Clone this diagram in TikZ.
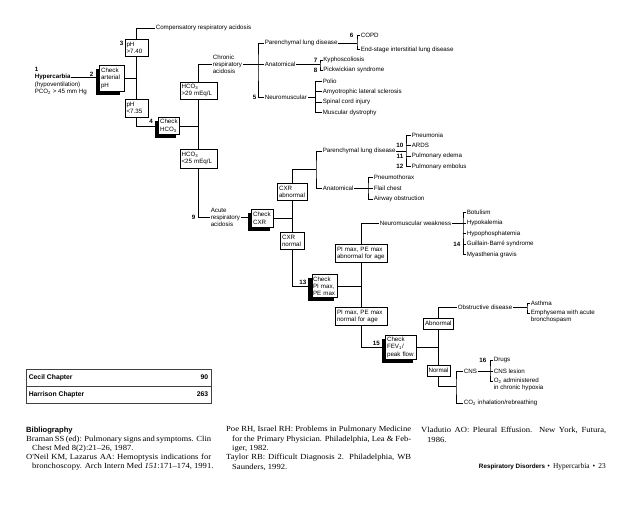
\documentclass[tikz,border=0pt]{standalone}
\usepackage{fontspec}
\setmainfont{Liberation Serif}
\setsansfont{Liberation Sans}
\newfontfamily\bibfont[FakeStretch=1.1]{Liberation Serif}
\usetikzlibrary{shadows}

\newcommand{\dgfont}{\fontsize{6.2}{7.2}\selectfont\sffamily}
\newcommand{\bibline}[2]{\makebox[#1pt][s]{#2}}

\begin{document}
\begin{tikzpicture}[x=1pt,y=-1pt,
  every node/.style={inner sep=0.6pt, font=\dgfont},
  lbl/.style={anchor=west, align=left},
  nr/.style={anchor=east, font=\dgfont\bfseries},
  box/.style={draw, line width=0.5pt, fill=white, anchor=north west, align=left,
    inner xsep=1.8pt, inner ysep=1pt},
  chkbox/.style={box, general shadow={fill=black, shadow xshift=-3.5pt, shadow yshift=-3.5pt}},
  lk/.style={line width=0.45pt},
  bib/.style={anchor=west, inner sep=0pt, font=\fontsize{7.8}{9}\selectfont\bibfont}]

\useasboundingbox (0,0) rectangle (638,510);

% start: hypercarbia and arterial pH
\node[nr, anchor=west] (n1) at (34,69) {1};
\node[lbl, font=\dgfont\bfseries] (hyper) at (34,77) {Hypercarbia};
\node[lbl] (hypo) at (34,84.5) {(hypoventilation)};
\node[lbl] (pco) at (34,92) {PCO\textsubscript{2} > 45 mm Hg};

\node[chkbox, text width=21pt, minimum height=26pt] (chkph) at (99,65) {Check\\arterial\\pH};
\node[box, text width=19.4pt, minimum height=17pt] (ph1) at (124.5,39) {pH\\>7.40};
\node[box, text width=19.4pt, minimum height=18pt] (ph2) at (124.5,99) {pH\\<7.35};
\node[chkbox, text width=17.4pt, minimum height=17pt] (chkhco) at (158,117) {Check\\HCO\textsubscript{3}};
\node[box, text width=33.4pt, minimum height=17pt] (hcohi) at (179.5,82) {HCO\textsubscript{3}\\>29 mEq/L};
\node[box, text width=33.4pt, minimum height=19pt] (hcolo) at (179.5,149) {HCO\textsubscript{3}\\<25 mEq/L};

\node[nr] (n2) at (94,74.5) {2};
\node[nr] (n3) at (124,43) {3};
\node[nr] (n4) at (153.5,121.5) {4};
\node[nr] (n9) at (196,217.5) {9};

\node[lbl] (comp) at (155,28) {Compensatory respiratory acidosis};
\node[lbl] (chron) at (212,64.5) {Chronic\\respiratory\\acidosis};
\node[lbl] (acute) at (210,217.5) {Acute\\respiratory\\acidosis};

\draw[lk] (hyper.east) -- (hyper.east -| chkph.west);
\draw[lk] (chkph.east) -- (chkph.east -| ph1.south);
\draw[lk] (ph1.south) -- (ph2.north);
\draw[lk] (ph1.north) |- (comp.west);
\draw[lk] (ph2.south) |- (chkhco.west);
\draw[lk] (chkhco.east) -- (chkhco.east -| hcohi.south);
\draw[lk] (hcohi.south) -- (hcolo.north);
\draw[lk] (hcohi.north) |- (chron.west);
\draw[lk] (hcolo.south) |- (acute.west);

% chronic respiratory acidosis
\node[lbl] (par1) at (264,43) {Parenchymal lung disease};
\node[lbl] (anat1) at (264,64.5) {Anatomical};
\node[lbl] (neu1) at (264,97) {Neuromuscular};
\node[nr] (n5) at (257,97) {5};
\coordinate (j5) at (258,64.5);
\draw[lk] (chron.east) -- (anat1.west);
\draw[lk] (par1.west) -| (j5) |- (neu1.west);

\node[lbl] (copd) at (360,35) {COPD};
\node[lbl] (endst) at (360,49.5) {End-stage interstitial lung disease};
\node[nr] (n6) at (354,35) {6};
\coordinate (j6) at (357,43);
\draw[lk] (par1.east) -- (j6);
\draw[lk] (copd.west) -| (j6) |- (endst.west);

\node[lbl] (kypho) at (322.5,60) {Kyphoscoliosis};
\node[lbl] (pickw) at (322.5,70) {Pickwickian syndrome};
\node[nr] (n7) at (318,60) {7};
\node[nr] (n8) at (318,70) {8};
\coordinate (j78) at (320,64.5);
\draw[lk] (anat1.east) -- (j78);
\draw[lk] (kypho.west) -| (j78) |- (pickw.west);

\foreach \nm/\yy/\tx in {polio/81/Polio, als/91.5/Amyotrophic lateral sclerosis,
    sci/102/Spinal cord injury, mdys/112.5/Muscular dystrophy}
  \node[lbl] (\nm) at (322,\yy) {\tx};
\coordinate (jn1) at (315.5,97);
\draw[lk] (neu1.east) -- (jn1);
\draw[lk] (polio.west) -| (jn1) |- (mdys.west);
\foreach \nm in {als,sci}
  \draw[lk] (\nm.west) -- (\nm.west -| jn1);

% acute respiratory acidosis
\node[chkbox, text width=18.4pt, minimum height=18pt] (chkcxr) at (251,209) {Check\\CXR};
\node[box, text width=26.4pt, minimum height=17pt] (cxrab) at (277,183) {CXR\\abnormal};
\node[box, text width=20.4pt, minimum height=17pt] (cxrno) at (280,232) {CXR\\normal};
\draw[lk] (acute.east) -- (acute.east -| chkcxr.west);
\draw[lk] (chkcxr.east) -- (chkcxr.east -| cxrab.south);
\draw[lk] (cxrab.south) -- (cxrno.north);

\node[lbl] (par2) at (322,151) {Parenchymal lung disease};
\node[lbl] (anat2) at (322,188) {Anatomical};
\coordinate (jc) at (316,169);
\draw[lk] (cxrab.north) |- (jc);
\draw[lk] (par2.west) -| (jc) |- (anat2.west);

\foreach \nm/\yy/\tx in {pneu/135/Pneumonia, ards/145.5/ARDS,
    edema/156/Pulmonary edema, embol/166.5/Pulmonary embolus}
  \node[lbl] (\nm) at (411,\yy) {\tx};
\node[nr] (n10) at (404,145.5) {10};
\node[nr] (n11) at (404,156) {11};
\node[nr] (n12) at (404,166.5) {12};
\coordinate (jp2) at (406,151);
\draw[lk] (par2.east) -- (jp2);
\draw[lk] (pneu.west) -| (jp2) |- (embol.west);
\foreach \nm in {ards,edema}
  \draw[lk] (\nm.west) -- (\nm.west -| jp2);

\foreach \nm/\yy/\tx in {pthx/177/Pneumothorax, flail/188/Flail chest,
    airw/199/Airway obstruction}
  \node[lbl] (\nm) at (373,\yy) {\tx};
\coordinate (ja2) at (368,188);
\draw[lk] (anat2.east) -- (flail.west);
\draw[lk] (pthx.west) -| (ja2) |- (airw.west);

% CXR normal: PI max, PE max
\node[chkbox, text width=23pt, inner xsep=1.3pt, minimum height=23pt] (chkpi) at (311.5,274.5) {Check\\PI max,\\PE max};
\node[box, text width=48.4pt, minimum height=18pt] (piab) at (335,244) {PI max, PE max\\abnormal for age};
\node[box, text width=48.4pt, minimum height=18pt] (pino) at (335,307) {PI max, PE max\\normal for age};
\node[nr] (n13) at (307,282) {13};
\draw[lk] (cxrno.south) |- (chkpi.west);
\draw[lk] (chkpi.east) -- (chkpi.east -| piab.south);
\draw[lk] (piab.south) -- (pino.north);

\node[lbl] (nmw) at (379,223) {Neuromuscular weakness};
\draw[lk] (piab.north) |- (nmw.west);
\foreach \nm/\yy/\tx in {botul/212/Botulism, hypok/223/Hypokalemia,
    hypoph/233.5/Hypophosphatemia, gbs/244/Guillain-Barré syndrome,
    myas/254.5/Myasthenia gravis}
  \node[lbl] (\nm) at (466,\yy) {\tx};
\node[nr] (n14) at (461,244) {14};
\coordinate (jw) at (463,223);
\draw[lk] (nmw.east) -- (hypok.west);
\draw[lk] (botul.west) -| (jw) |- (myas.west);
\foreach \nm in {hypoph,gbs}
  \draw[lk] (\nm.west) -- (\nm.west -| jw);

% FEV1 / peak flow
\node[chkbox, text width=27.4pt, minimum height=24pt] (chkfev) at (385,335) {Check\\FEV\textsubscript{1}/\\peak flow};
\node[box, text width=26.4pt, minimum height=11pt] (abn) at (423,318) {Abnormal};
\node[box, text width=19.4pt, minimum height=11pt] (nor) at (426.5,365) {Normal};
\node[nr] (n15) at (380.5,343) {15};
\draw[lk] (pino.south) |- (chkfev.west);
\draw[lk] (chkfev.east) -- (chkfev.east -| abn.south);
\draw[lk] (abn.south) -- (nor.north);

\node[lbl] (obs) at (457,307) {Obstructive disease};
\node[lbl] (asth) at (530,303) {Asthma};
\node[lbl] (emph) at (530,313) {Emphysema with acute};
\node[lbl] (bron) at (530,320) {bronchospasm};
\coordinate (jo) at (527,307);
\draw[lk] (abn.north) |- (obs.west);
\draw[lk] (obs.east) -- (jo);
\draw[lk] (asth.west) -| (jo) |- (emph.west);

\node[lbl] (cns) at (463,371) {CNS};
\node[lbl] (co2) at (463,403) {CO\textsubscript{2} inhalation/rebreathing};
\coordinate (jn2) at (456,386);
\draw[lk] (nor.south) |- (jn2);
\draw[lk] (cns.west) -| (jn2) |- (co2.west);

\node[lbl] (drugs) at (493,360) {Drugs};
\node[lbl] (lesion) at (493,371) {CNS lesion};
\node[lbl] (oxa) at (493,381) {O\textsubscript{2} administered};
\node[lbl] (oxb) at (493,388) {in chronic hypoxia};
\node[nr] (n16) at (487,360) {16};
\coordinate (j16) at (490,371);
\draw[lk] (cns.east) -- (lesion.west);
\draw[lk] (drugs.west) -| (j16) |- (oxa.west);

% chapter table
\draw[line width=0.6pt, black!75] (26,369) rectangle (211,403);
\draw[line width=0.6pt, black!75] (26,386) -- (211,386);
\node[anchor=west, font=\fontsize{6.8}{8}\selectfont\sffamily\bfseries] (cecil) at (28,377.5) {Cecil Chapter};
\node[anchor=east, font=\fontsize{6.8}{8}\selectfont\sffamily\bfseries] (cecilno) at (209,377.5) {90};
\node[anchor=west, font=\fontsize{6.8}{8}\selectfont\sffamily\bfseries] (harr) at (28,394.5) {Harrison Chapter};
\node[anchor=east, font=\fontsize{6.8}{8}\selectfont\sffamily\bfseries] (harrno) at (209,394.5) {263};

% bibliography
\node[anchor=west, inner sep=0pt, font=\fontsize{7.6}{9}\selectfont\sffamily\bfseries] (bibhead) at (26,431) {Bibliography};
\node[bib] (b1) at (26,440) {\bibline{185}{Braman SS (ed): Pulmonary signs and symptoms. Clin}};
\node[bib] (b2) at (32,449) {Chest Med 8(2):21–26, 1987.};
\node[bib] (b3) at (26,458) {\bibline{185}{O'Neil KM, Lazarus AA: Hemoptysis indications for}};
\node[bib] (b4) at (32,467) {bronchoscopy. Arch Intern Med \textit{151}:171–174, 1991.};

\node[bib] (b5) at (226,430) {\bibline{185}{Poe RH, Israel RH: Problems in Pulmonary Medicine}};
\node[bib] (b6) at (232,440) {\bibline{179}{for the Primary Physician. Philadelphia, Lea \& Feb-}};
\node[bib] (b7) at (232,449) {iger, 1982.};
\node[bib] (b8) at (226,458) {\bibline{185}{Taylor RB: Difficult Diagnosis 2. Philadelphia, WB}};
\node[bib] (b9) at (232,467) {Saunders, 1992.};

\node[bib] (b10) at (421,430) {\bibline{185}{Vladutio AO: Pleural Effusion. New York, Futura,}};
\node[bib] (b11) at (427,440) {1986.};

% running foot
\node[anchor=east, inner sep=0pt] (foot) at (606,467)
  {{\fontsize{6.3}{7}\selectfont\sffamily\bfseries Respiratory Disorders}\,{\fontsize{7.4}{8}\selectfont\rmfamily\,•\, Hypercarbia \,•\, 23}};

\end{tikzpicture}
\end{document}
